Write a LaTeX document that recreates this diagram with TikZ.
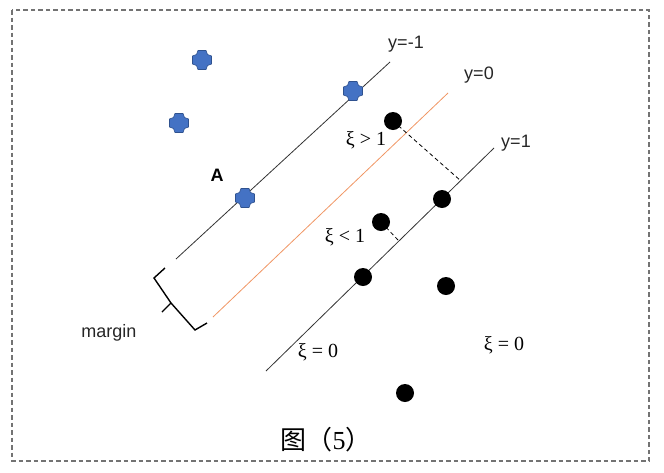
\documentclass[tikz,border=0pt]{standalone}
\usepackage{amsmath}
\usepackage{fontspec}
\setsansfont{Liberation Sans}
\newfontfamily\cjkfont{Noto Sans CJK SC}
\newfontfamily\xifont{Liberation Serif}
\usetikzlibrary{positioning}
\definecolor{PlusBlue}{RGB}{68,114,196}
\definecolor{PlusEdge}{RGB}{47,82,143}
\definecolor{HyperOrange}{RGB}{240,150,100}
\colorlet{LineGray}{black!80}
\colorlet{FrameGray}{black!55}

\begin{document}
\begin{tikzpicture}[x=1pt,y=-1pt,
    dotpt/.style={circle,fill=black,inner sep=0pt,minimum size=18pt},
    pluspt/.style={inner sep=0pt,minimum size=20pt,
      path picture={
        \filldraw[fill=PlusBlue,draw=PlusEdge,line width=0.6pt,
          shift={(path picture bounding box.center)}]
          (-4,-9.5) -- (4,-9.5) -- (5.5,-5.5) -- (9.5,-4) -- (9.5,4)
          -- (5.5,5.5) -- (4,9.5) -- (-4,9.5) -- (-5.5,5.5) -- (-9.5,4)
          -- (-9.5,-4) -- (-5.5,-5.5) -- cycle;}},
    hyper/.style={LineGray,line width=0.8pt},
    gap/.style={dashed,line width=0.8pt,dash pattern=on 4pt off 3pt},
    lab/.style={font=\sffamily\fontsize{18}{18}\selectfont,text=black!85,inner sep=1pt},
    xilab/.style={font=\xifont\fontsize{20}{20}\selectfont,inner sep=1pt}
  ]
    \useasboundingbox (0,0) rectangle (664,472);
    \draw[FrameGray,line width=1.2pt,dash pattern=on 4.5pt off 3pt] (12,10) rectangle (649,461);

    % the three lines
    \coordinate (m1a) at (176,259);
    \coordinate (m1b) at (390,62);
    \coordinate (h0a) at (213,317);
    \coordinate (h0b) at (448,93);
    \coordinate (p1a) at (266,371);
    \coordinate (p1b) at (494,148);
    \draw[hyper] (m1a) -- (m1b);
    \draw[HyperOrange,line width=0.8pt] (h0a) -- (h0b);
    \draw[hyper] (p1a) -- (p1b);

    \node[lab] (ym1) at (406,44) {y=-1};
    \node[lab] (y0) at (479,75) {y=0};
    \node[lab] (y1) at (516,143) {y=1};

    % class A
    \node[pluspt] (a1) at (202,60) {};
    \node[pluspt] (a2) at (179,123) {};
    \node[pluspt] (a3) at (353,91) {};
    \node[pluspt] (a4) at (245,198) {};
    \node[font=\sffamily\bfseries\fontsize{18}{18}\selectfont] (lblA) at (217,175) {A};

    % other class
    \node[dotpt] (b1) at (393,121) {};
    \node[dotpt] (b2) at (442,199) {};
    \node[dotpt] (b3) at (381,222) {};
    \node[dotpt] (b4) at (363,277) {};
    \node[dotpt] (b5) at (446,286) {};
    \node[dotpt] (b6) at (405,393) {};

    \coordinate (f1) at (461,181);
    \coordinate (f3) at (398,240);
    \draw[gap] (b1.center) -- (f1);
    \draw[gap] (b3.center) -- (f3);

    \node[xilab] (xi1) at (366,140) {ξ > 1};
    \node[xilab] (xi2) at (345,237) {ξ < 1};
    \node[xilab] (xi3) at (318,352) {ξ = 0};
    \node[xilab] (xi4) at (504,345) {ξ = 0};

    % margin brace
    \draw[line width=1.4pt,line join=miter] (165,268) -- (154,278) -- (171,303) -- (195,330) -- (207,323);
    \draw[line width=1.4pt] (171,303) -- (162,312);
    \node[lab] (marg) at (109,333) {margin};

    \node[inner sep=1pt] (cap) at (326,440)
      {\cjkfont\fontsize{26}{26}\selectfont 图（{\xifont 5}）};
\end{tikzpicture}
\end{document}
